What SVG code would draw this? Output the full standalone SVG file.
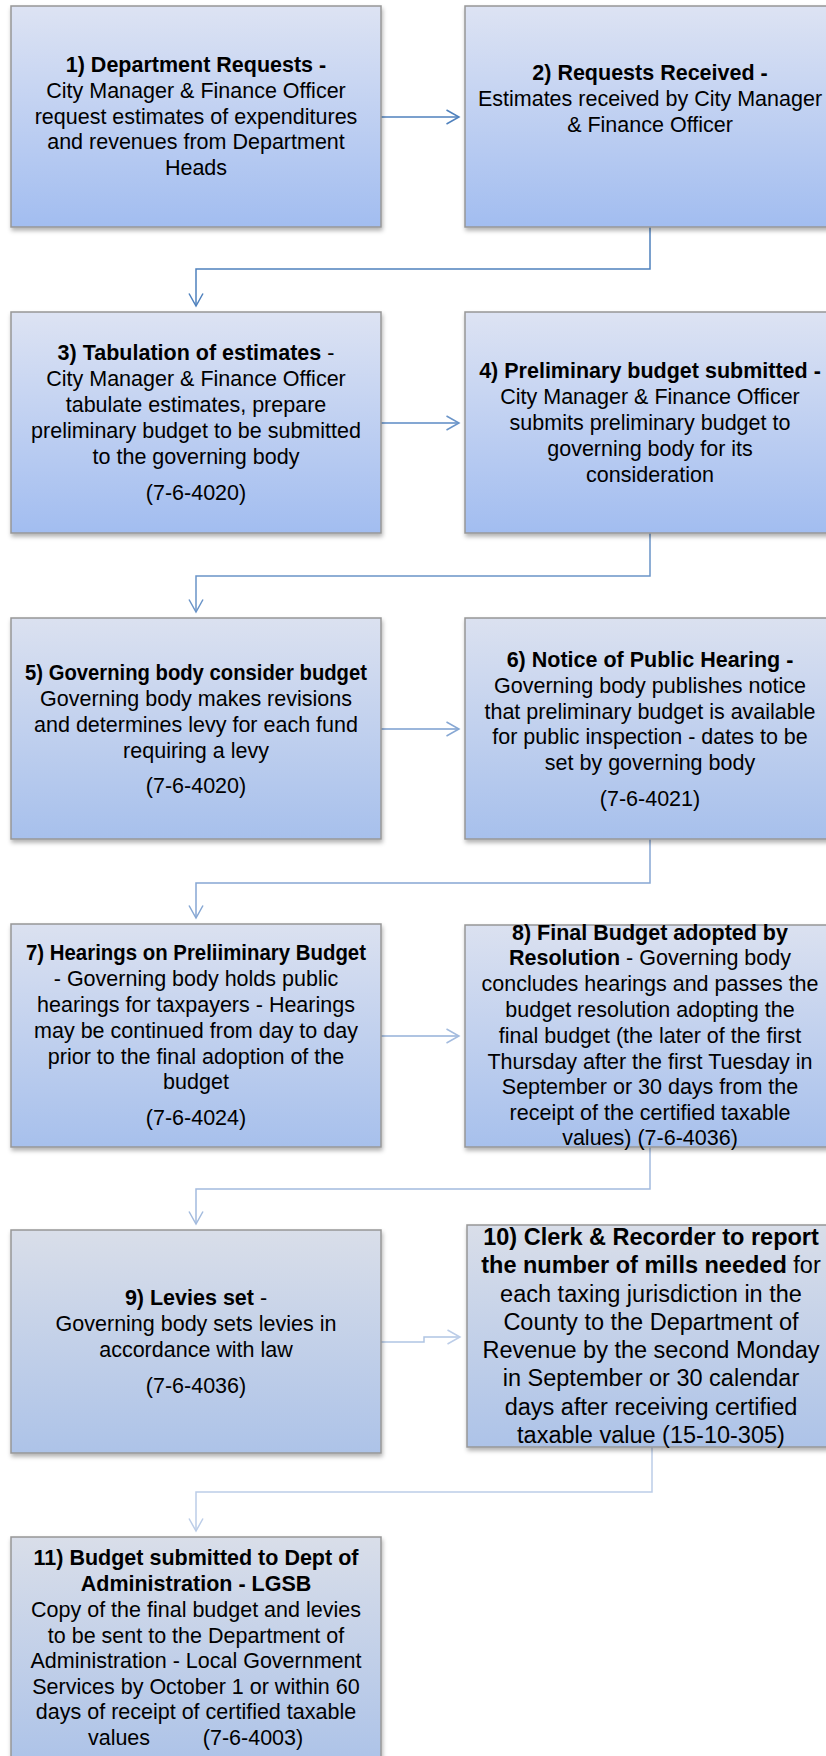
<svg xmlns="http://www.w3.org/2000/svg" width="826" height="1756" viewBox="0 0 826 1756">
<style>
.box{stroke:#979797;stroke-width:1.5;filter:url(#sh)}
.t{font-family:"Liberation Sans",Arial,sans-serif;font-size:21.5px;text-anchor:middle;fill:#000}
.big{font-size:23.5px}
.b{font-weight:bold}
.c{fill:none;stroke-width:1.5}
</style>
<defs>
<linearGradient id="gA" x1="0" y1="0" x2="0" y2="1"><stop offset="0" stop-color="#dde3f3"/><stop offset="1" stop-color="#a2bdf0"/></linearGradient>
<linearGradient id="gB" x1="0" y1="0" x2="0" y2="1"><stop offset="0" stop-color="#dbe1f0"/><stop offset="1" stop-color="#a7c0ec"/></linearGradient>
<linearGradient id="gC" x1="0" y1="0" x2="0" y2="1"><stop offset="0" stop-color="#d9dee9"/><stop offset="1" stop-color="#adc3e8"/></linearGradient>
<filter id="sh" x="-5%" y="-5%" width="115%" height="115%"><feDropShadow dx="1" dy="3" stdDeviation="2" flood-color="#000" flood-opacity="0.3"/></filter>
<marker id="m1" markerUnits="userSpaceOnUse" viewBox="0 0 15 16" refX="13.5" refY="8" markerWidth="15" markerHeight="16" orient="auto"><path d="M1,1 L13.5,8 L1,15" fill="none" stroke="#4f81bd" stroke-width="1.5"/></marker>
<marker id="m2" markerUnits="userSpaceOnUse" viewBox="0 0 15 16" refX="13.5" refY="8" markerWidth="15" markerHeight="16" orient="auto"><path d="M1,1 L13.5,8 L1,15" fill="none" stroke="#6a94c8" stroke-width="1.5"/></marker>
<marker id="m3" markerUnits="userSpaceOnUse" viewBox="0 0 15 16" refX="13.5" refY="8" markerWidth="15" markerHeight="16" orient="auto"><path d="M1,1 L13.5,8 L1,15" fill="none" stroke="#86a7d3" stroke-width="1.5"/></marker>
<marker id="m4" markerUnits="userSpaceOnUse" viewBox="0 0 15 16" refX="13.5" refY="8" markerWidth="15" markerHeight="16" orient="auto"><path d="M1,1 L13.5,8 L1,15" fill="none" stroke="#a3bbde" stroke-width="1.5"/></marker>
<marker id="m5" markerUnits="userSpaceOnUse" viewBox="0 0 15 16" refX="13.5" refY="8" markerWidth="15" markerHeight="16" orient="auto"><path d="M1,1 L13.5,8 L1,15" fill="none" stroke="#bccde8" stroke-width="1.5"/></marker>
</defs>
<rect width="826" height="1756" fill="#fff"/>

<g id="connectors">
<path class="c" stroke="#4f81bd" marker-end="url(#m1)" d="M381,117 H459"/>
<path class="c" stroke="#4f81bd" marker-end="url(#m1)" d="M650,227 V269 H196 V306"/>
<path class="c" stroke="#5b8ac4" marker-end="url(#m2)" d="M381,423 H459"/>
<path class="c" stroke="#6a94c8" marker-end="url(#m2)" d="M650,533 V576 H196 V612"/>
<path class="c" stroke="#7a9ecf" marker-end="url(#m3)" d="M381,729 H459"/>
<path class="c" stroke="#86a7d3" marker-end="url(#m3)" d="M650,839 V883 H196 V918"/>
<path class="c" stroke="#95b1d8" marker-end="url(#m4)" d="M381,1036 H459"/>
<path class="c" stroke="#a3bbde" marker-end="url(#m4)" d="M650,1147 V1189 H196 V1224"/>
<path class="c" stroke="#b0c5e3" marker-end="url(#m5)" d="M381,1342 H424 V1337 H460"/>
<path class="c" stroke="#bccde8" marker-end="url(#m5)" d="M652,1447 V1492 H196 V1531"/>
</g>

<g id="node1">
<rect class="box" x="11" y="6" width="370" height="221" fill="url(#gA)"/>
<text class="t"><tspan class="b" x="196" y="72">1) Department Requests -</tspan><tspan x="196" y="98">City Manager &amp; Finance Officer</tspan><tspan x="196" y="123.5">request estimates of expenditures</tspan><tspan x="196" y="149">and revenues from Department</tspan><tspan x="196" y="174.5">Heads</tspan></text>
</g>

<g id="node2">
<rect class="box" x="465" y="6" width="370" height="221" fill="url(#gA)"/>
<text class="t"><tspan class="b" x="650" y="80">2) Requests Received -</tspan><tspan x="650" y="106">Estimates received by City Manager</tspan><tspan x="650" y="132">&amp; Finance Officer</tspan></text>
</g>

<g id="node3">
<rect class="box" x="11" y="312" width="370" height="221" fill="url(#gA)"/>
<text class="t"><tspan x="196" y="360"><tspan class="b">3) Tabulation of estimates</tspan> -</tspan><tspan x="196" y="386">City Manager &amp; Finance Officer</tspan><tspan x="196" y="412">tabulate estimates, prepare</tspan><tspan x="196" y="438">preliminary budget to be submitted</tspan><tspan x="196" y="464">to the governing body</tspan><tspan x="196" y="500">(7-6-4020)</tspan></text>
</g>

<g id="node4">
<rect class="box" x="465" y="312" width="370" height="221" fill="url(#gA)"/>
<text class="t"><tspan class="b" x="650" y="378">4) Preliminary budget submitted -</tspan><tspan x="650" y="404">City Manager &amp; Finance Officer</tspan><tspan x="650" y="430">submits preliminary budget to</tspan><tspan x="650" y="456">governing body for its</tspan><tspan x="650" y="482">consideration</tspan></text>
</g>

<g id="node5">
<rect class="box" x="11" y="618" width="370" height="221" fill="url(#gB)"/>
<text class="t"><tspan class="b" x="196" y="680" textLength="342" lengthAdjust="spacingAndGlyphs">5) Governing body consider budget</tspan><tspan x="196" y="706">Governing body makes revisions</tspan><tspan x="196" y="732">and determines levy for each fund</tspan><tspan x="196" y="758">requiring a levy</tspan><tspan x="196" y="793">(7-6-4020)</tspan></text>
</g>

<g id="node6">
<rect class="box" x="465" y="618" width="370" height="221" fill="url(#gB)"/>
<text class="t"><tspan class="b" x="650" y="667">6) Notice of Public Hearing -</tspan><tspan x="650" y="693">Governing body publishes notice</tspan><tspan x="650" y="719">that preliminary budget is available</tspan><tspan x="650" y="744">for public inspection - dates to be</tspan><tspan x="650" y="770">set by governing body</tspan><tspan x="650" y="806">(7-6-4021)</tspan></text>
</g>

<g id="node7">
<rect class="box" x="11" y="924" width="370" height="223" fill="url(#gB)"/>
<text class="t"><tspan class="b" x="196" y="960" textLength="340" lengthAdjust="spacingAndGlyphs">7) Hearings on Preliiminary Budget</tspan><tspan x="196" y="986">- Governing body holds public</tspan><tspan x="196" y="1012">hearings for taxpayers - Hearings</tspan><tspan x="196" y="1038">may be continued from day to day</tspan><tspan x="196" y="1064">prior to the final adoption of the</tspan><tspan x="196" y="1089">budget</tspan><tspan x="196" y="1125">(7-6-4024)</tspan></text>
</g>

<g id="node8">
<rect class="box" x="465" y="925" width="370" height="222" fill="url(#gB)"/>
<text class="t"><tspan class="b" x="650" y="940">8) Final Budget adopted by</tspan><tspan x="650" y="965"><tspan class="b">Resolution</tspan> - Governing body</tspan><tspan x="650" y="991">concludes hearings and passes the</tspan><tspan x="650" y="1017">budget resolution adopting the</tspan><tspan x="650" y="1043">final budget (the later of the first</tspan><tspan x="650" y="1069">Thursday after the first Tuesday in</tspan><tspan x="650" y="1094">September or 30 days from the</tspan><tspan x="650" y="1120">receipt of the certified taxable</tspan><tspan x="650" y="1145">values) (7-6-4036)</tspan></text>
</g>

<g id="node9">
<rect class="box" x="11" y="1230" width="370" height="223" fill="url(#gC)"/>
<text class="t"><tspan x="196" y="1305"><tspan class="b">9) Levies set</tspan> -</tspan><tspan x="196" y="1331">Governing body sets levies in</tspan><tspan x="196" y="1357">accordance with law</tspan><tspan x="196" y="1393">(7-6-4036)</tspan></text>
</g>

<g id="node10">
<rect class="box" x="467" y="1225" width="370" height="222" fill="url(#gC)"/>
<text class="t big"><tspan class="b" x="651" y="1245">10) Clerk &amp; Recorder to report</tspan><tspan x="651" y="1273"><tspan class="b">the number of mills needed</tspan> for</tspan><tspan x="651" y="1302">each taxing jurisdiction in the</tspan><tspan x="651" y="1330">County to the Department of</tspan><tspan x="651" y="1358">Revenue by the second Monday</tspan><tspan x="651" y="1386">in September or 30 calendar</tspan><tspan x="651" y="1415">days after receiving certified</tspan><tspan x="651" y="1443">taxable value (15-10-305)</tspan></text>
</g>

<g id="node11">
<rect class="box" x="11" y="1537" width="370" height="225" fill="url(#gC)"/>
<text class="t"><tspan class="b" x="196" y="1565">11) Budget submitted to Dept of</tspan><tspan class="b" x="196" y="1591">Administration - LGSB</tspan><tspan x="196" y="1617">Copy of the final budget and levies</tspan><tspan x="196" y="1643">to be sent to the Department of</tspan><tspan x="196" y="1668">Administration - Local Government</tspan><tspan x="196" y="1694">Services by October 1 or within 60</tspan><tspan x="196" y="1719">days of receipt of certified taxable</tspan><tspan x="119" y="1745">values</tspan><tspan x="253" y="1745">(7-6-4003)</tspan></text>
</g>
</svg>
